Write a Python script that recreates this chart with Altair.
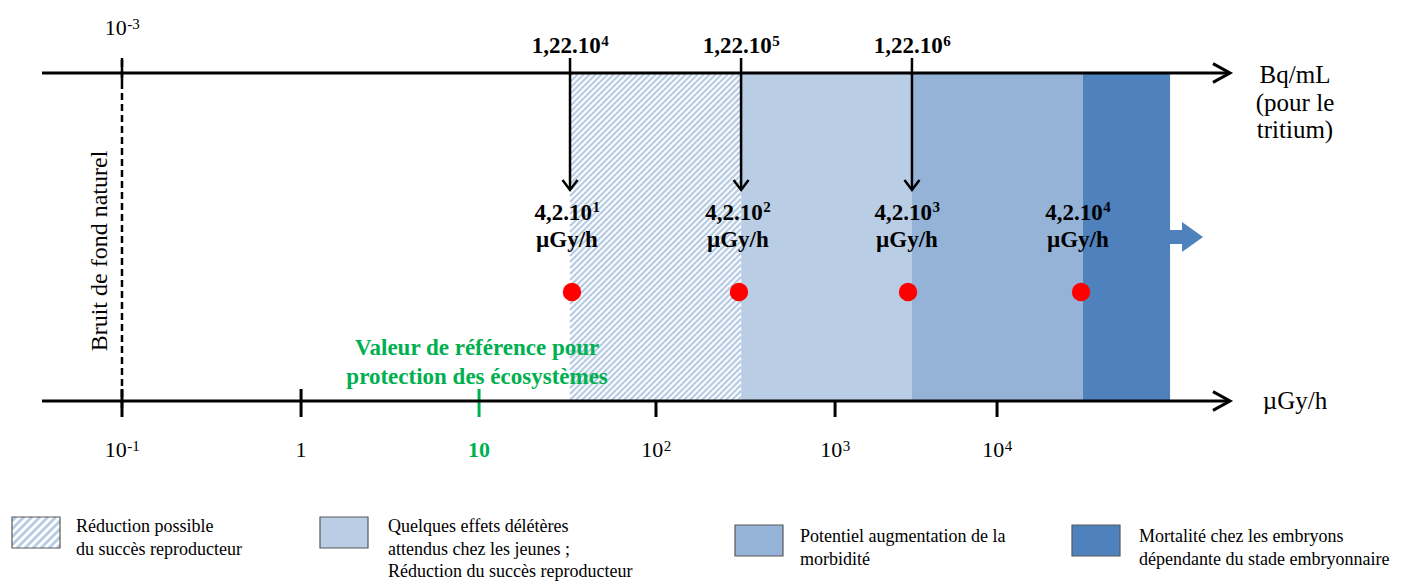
import altair as alt
import pandas as pd

# ---------------- data (positions in decades: log10 of µGy/h, as drawn) ----------------
tick_pos = [-1.0, 0.006, 1.006, 2.0, 3.006, 3.916]
tick_base = ["10", "1", "10", "10", "10", "10"]
tick_exp = ["-1", "", "", "2", "3", "4"]
tick_colors = ["black", "black", "#00b050", "black", "black", "black"]

zone_start = [1.517, 2.478, 3.438, 4.399]
zone_end = [2.478, 3.438, 4.399, 4.888]
zone_colors = ["#b9cde5", "#b9cde5", "#95b3d7", "#4f81bd"]
zone_hatched = [True, False, False, False]
zone_legend = [
    ["Réduction possible", "du succès reproducteur"],
    ["Quelques effets délétères", "attendus chez les jeunes ;", "Réduction du succès reproducteur"],
    ["Potentiel augmentation  de la", "morbidité"],
    ["Mortalité  chez les embryons", "dépendante du stade embryonnaire"],
]

bq_pos = [1.517, 2.478, 3.438]
bq_base = ["1,22.10", "1,22.10", "1,22.10"]
bq_exp = ["4", "5", "6"]

dose_pos = [1.500, 2.460, 3.410, 4.370]
dot_pos = [1.528, 2.466, 3.416, 4.388]
dose_base = ["4,2.10", "4,2.10", "4,2.10", "4,2.10"]
dose_exp = ["1", "2", "3", "4"]

top_scale_base, top_scale_exp = "10", "-3"
background_label = "Bruit de fond naturel"
reference_label = ["Valeur de référence pour", "protection des écosystèmes"]
reference_pos = 0.995
top_unit = ["Bq/mL", "(pour le", "tritium)"]
bottom_unit = "µGy/h"

# ---------------- layout / style ----------------
W, H = 1387, 573
FONT = "Liberation Serif"
x_domain = [-1.6404, 6.1517]
XS = alt.Scale(domain=x_domain, nice=False, zero=False)
PX_PER_UNIT = W / (x_domain[1] - x_domain[0])
CHAR_W = {",": 0.25, ".": 0.25, "-": 0.333}
Y_TOP = 65     # top axis (Bq/mL)
Y_BOT = 393    # bottom axis (µGy/h)
HATCH_COLOR = "#b9cde5"


def text_width(s, size):
    return sum(CHAR_W.get(c, 0.5) for c in s) * size


def X(field):
    return alt.X(field, type="quantitative", scale=XS, axis=None)


def hatch_lines(w, h, period):
    """diagonal '/' hatch lines inside a w x h box (pixel offsets from its top-left)"""
    rows = []
    c = period / 2
    while c < w + h:
        x1 = max(0.0, c - h)
        x2 = min(w, c)
        rows.append({"hx": x1, "hy": c - x1, "hx2": x2, "hy2": c - x2})
        c += period
    return pd.DataFrame(rows)


def sup_label(pos, base, exp, size, exp_size, y, rise, bold=False, color="black"):
    """base text + raised exponent, centred as a whole on pos"""
    weight = "bold" if bold else "normal"
    B = text_width(base, size)
    E = text_width(exp, exp_size) if exp else 0
    T = B + E
    row = pd.DataFrame({"pos": [pos]})
    out = [
        alt.Chart(row).mark_text(
            font=FONT, fontSize=size, fontWeight=weight, align="left", baseline="alphabetic",
            dx=-T / 2, color=color
        ).encode(x=X("pos"), y=alt.value(y), text=alt.value(base))
    ]
    if exp:
        out.append(
            alt.Chart(row).mark_text(
                font=FONT, fontSize=exp_size, fontWeight=weight, align="left", baseline="alphabetic",
                dx=-T / 2 + B + 0.5, color=color
            ).encode(x=X("pos"), y=alt.value(y - rise), text=alt.value(exp))
        )
    return out


ticks_df = pd.DataFrame({"pos": tick_pos, "color": tick_colors})
zones_df = pd.DataFrame({"start": zone_start, "end": zone_end, "color": zone_colors, "hatched": zone_hatched})
bq_df = pd.DataFrame({"pos": bq_pos})
dose_df = pd.DataFrame({"pos": dose_pos})
dot_df = pd.DataFrame({"pos": dot_pos})
one = pd.DataFrame({"pos": [tick_pos[0]]})

layers = []

# ticks on the bottom axis (under the zones)
layers.append(
    alt.Chart(ticks_df).mark_rule(strokeWidth=3).encode(
        x=X("pos"), y=alt.value(381), y2=alt.value(409), color=alt.Color("color:N", scale=None)
    )
)

# plain zones
layers.append(
    alt.Chart(zones_df).transform_filter("!datum.hatched").mark_rect().encode(
        x=X("start"), x2=alt.X2("end"), y=alt.value(Y_TOP), y2=alt.value(Y_BOT),
        color=alt.Color("color:N", scale=None)
    )
)
# hatched zone: white box + diagonal lines
layers.append(
    alt.Chart(zones_df).transform_filter("datum.hatched").mark_rect(color="white").encode(
        x=X("start"), x2=alt.X2("end"), y=alt.value(Y_TOP), y2=alt.value(Y_BOT)
    )
)
for s, e, hz in zip(zone_start, zone_end, zone_hatched):
    if not hz:
        continue
    hl = hatch_lines((e - s) * PX_PER_UNIT, Y_BOT - Y_TOP, 6)
    hl["x"] = s + hl.hx / PX_PER_UNIT
    hl["x2"] = s + hl.hx2 / PX_PER_UNIT
    hl["y"] = Y_TOP + hl.hy
    hl["y2"] = Y_TOP + hl.hy2
    layers.append(
        alt.Chart(hl).mark_rule(color=HATCH_COLOR, strokeWidth=2.4, strokeCap="butt").encode(
            x=X("x"), x2=alt.X2("x2"),
            y=alt.Y("y:Q", scale=None, axis=None), y2=alt.Y2("y2")
        )
    )

# axis lines with open arrow heads
for yy in (Y_TOP, Y_BOT):
    layers.append(
        alt.Chart(one).mark_rule(strokeWidth=3, color="black").encode(
            x=alt.value(34), x2=alt.value(1220), y=alt.value(yy)
        )
    )
    layers.append(
        alt.Chart(one).mark_point(
            shape="M -1 -0.55 L 0 0 L -1 0.55", filled=False, color="black", strokeWidth=3,
            size=1156, opacity=1
        ).encode(x=alt.value(1222), y=alt.value(yy))
    )

# natural background: dashed line at 10^-1
layers.append(
    alt.Chart(one).mark_rule(strokeWidth=2.5, strokeDash=[7, 4], color="black").encode(
        x=X("pos"), y=alt.value(52), y2=alt.value(400)
    )
)
layers.append(
    alt.Chart(one).mark_rule(strokeWidth=2.5, color="black").encode(
        x=X("pos"), y=alt.value(50), y2=alt.value(74)
    )
)
layers += sup_label(tick_pos[0], top_scale_base, top_scale_exp, 22, 15, 27, 6)
layers.append(
    alt.Chart(one).mark_text(font=FONT, fontSize=24, angle=270, baseline="middle").encode(
        x=alt.value(92), y=alt.value(243), text=alt.value(background_label)
    )
)

# tick labels
for p, b, e, c in zip(tick_pos, tick_base, tick_exp, tick_colors):
    layers += sup_label(p, b, e, 22, 15, 449, 6, bold=(c != "black"), color=c)

# reference value text
ref_df = pd.DataFrame({"pos": [reference_pos]})
for i, line in enumerate(reference_label):
    layers.append(
        alt.Chart(ref_df).mark_text(
            font=FONT, fontSize=23, fontWeight="bold", baseline="middle", color="#00b050"
        ).encode(x=X("pos"), y=alt.value(340 + 29 * i), text=alt.value(line))
    )

# Bq/mL arrows
layers.append(
    alt.Chart(bq_df).mark_rule(strokeWidth=2.5, color="black").encode(
        x=X("pos"), y=alt.value(50), y2=alt.value(181)
    )
)
layers.append(
    alt.Chart(bq_df).mark_point(
        shape="M -0.75 -1 L 0 0 L 0.75 -1", filled=False, color="black", strokeWidth=2.5,
        size=400, opacity=1
    ).encode(x=X("pos"), y=alt.value(182))
)
for p, b, e in zip(bq_pos, bq_base, bq_exp):
    layers += sup_label(p, b, e, 23, 15, 45, 7, bold=True)

# dose labels and dots
for p, b, e in zip(dose_pos, dose_base, dose_exp):
    layers += sup_label(p, b, e, 23, 15, 212, 8, bold=True)
layers.append(
    alt.Chart(dose_df).mark_text(font=FONT, fontSize=23, fontWeight="bold", baseline="alphabetic").encode(
        x=X("pos"), y=alt.value(239), text=alt.value(bottom_unit)
    )
)
layers.append(
    alt.Chart(dot_df).mark_circle(size=340, color="#ff0000", opacity=1).encode(
        x=X("pos"), y=alt.value(284)
    )
)

# blue arrow beyond last zone
layers.append(
    alt.Chart(one).mark_point(
        shape="M -1 -0.42 L -0.27 -0.42 L -0.27 -0.91 L 1 0 L -0.27 0.91 L -0.27 0.42 L -1 0.42 Z",
        filled=True, color="#4f81bd", size=1089, opacity=1, strokeWidth=0
    ).encode(x=alt.value(1178.5), y=alt.value(229))
)

# unit labels on the right
for i, line in enumerate(top_unit):
    layers.append(
        alt.Chart(one).mark_text(font=FONT, fontSize=25, baseline="middle").encode(
            x=alt.value(1287), y=alt.value(67 + 27.5 * i), text=alt.value(line)
        )
    )
layers.append(
    alt.Chart(one).mark_text(font=FONT, fontSize=25, baseline="middle").encode(
        x=alt.value(1287), y=alt.value(Y_BOT), text=alt.value(bottom_unit)
    )
)

# legend
leg_box_x = [4, 312, 727, 1064]
leg_box_y = [509, 509, 517, 517]
leg_text_x = [68, 380, 792, 1131]
leg_text_y = [519, 519, 529, 529]
for i in range(4):
    bx, by = leg_box_x[i], leg_box_y[i]
    layers.append(
        alt.Chart(one).mark_rect(fill="white" if zone_hatched[i] else zone_colors[i]).encode(
            x=alt.value(bx), x2=alt.value(bx + 48), y=alt.value(by), y2=alt.value(by + 31)
        )
    )
    if zone_hatched[i]:
        lh = hatch_lines(48, 31, 8)
        lh["x"], lh["x2"] = bx + lh.hx, bx + lh.hx2
        lh["y"], lh["y2"] = by + lh.hy, by + lh.hy2
        layers.append(
            alt.Chart(lh).mark_rule(color=HATCH_COLOR, strokeWidth=3, strokeCap="butt").encode(
                x=alt.X("x:Q", scale=None, axis=None), x2=alt.X2("x2"),
                y=alt.Y("y:Q", scale=None, axis=None), y2=alt.Y2("y2")
            )
        )
    layers.append(
        alt.Chart(one).mark_rect(fill=None, fillOpacity=0, stroke="#595959", strokeWidth=1.2).encode(
            x=alt.value(bx), x2=alt.value(bx + 48), y=alt.value(by), y2=alt.value(by + 31)
        )
    )
    for j, line in enumerate(zone_legend[i]):
        layers.append(
            alt.Chart(one).mark_text(font=FONT, fontSize=18, align="left", baseline="middle").encode(
                x=alt.value(leg_text_x[i]), y=alt.value(leg_text_y[i] + 22.5 * j), text=alt.value(line)
            )
        )

chart = alt.layer(*layers).properties(
    width=W, height=H, padding=0, autosize=alt.AutoSizeParams(type="none")
).configure_view(stroke=None)

chart.save("out.html", embed_options={"renderer": "svg", "actions": False})
